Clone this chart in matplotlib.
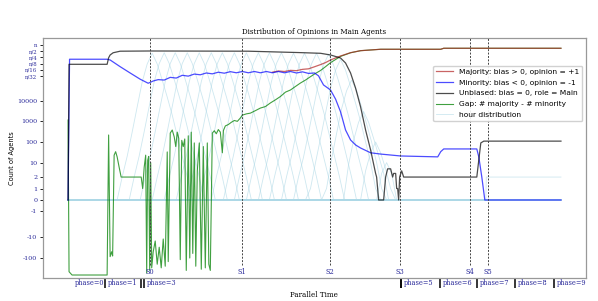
import numpy as np
import matplotlib.pyplot as plt
from matplotlib.ticker import NullLocator
from matplotlib.transforms import blended_transform_factory

n = 5_000_000
t_end = 49.2

# Majority: bias > 0, opinion = +1
maj_t = [20.4, 21.0, 21.6, 22.2, 22.8, 23.4, 24.0, 24.6, 25.2, 25.7, 26.2, 27.2, 28.2, 29.2, 31.2, 37.2, 37.5, 49.2]
maj_v = [2.4e5, 2.75e5, 2.6e5, 2.95e5, 2.85e5, 3.3e5, 3.5e5, 4.4e5, 5.6e5, 7.0e5, 9.4e5, 1.47e6, 2.12e6,
         2.65e6, 3.1e6, 3.1e6, 3.47e6, 3.47e6]

# Minority: bias < 0, opinion = -1
min_t = [0, 0.15, 3.9, 4.2, 5.2, 6.2, 7.2, 8.0, 8.5, 9.0, 9.6, 10.2, 10.8, 11.4, 12.0, 12.6, 13.2, 13.8,
         14.4, 15.0, 15.6, 16.2, 16.8, 17.4, 18.0, 18.6, 19.2, 19.8, 20.4, 21.0, 21.6, 22.2, 22.8, 23.4,
         24.0, 24.6, 25.0, 25.5, 26.2, 26.7, 27.2, 27.7, 28.2, 28.7, 29.2, 30.2, 31.2, 33.2, 36.9, 37.2,
         37.5, 40.8, 41.0, 41.3, 41.6, 49.2]
min_v = [0, 1.02e6, 1.02e6, 9.4e5, 4.45e5, 2.2e5, 1.1e5, 7.0e4, 9.0e4, 1.05e5, 1.0e5, 1.35e5, 1.25e5,
         1.7e5, 1.55e5, 1.95e5, 1.8e5, 2.2e5, 2.0e5, 2.4e5, 2.15e5, 2.55e5, 2.25e5, 2.6e5, 2.25e5, 2.6e5,
         2.25e5, 2.6e5, 2.25e5, 2.6e5, 2.25e5, 2.6e5, 2.2e5, 2.5e5, 2.1e5, 2.2e5, 1.6e5, 5.8e4, 3.3e4,
         1.2e4, 2.9e3, 380, 125, 72, 51, 30, 26, 21, 19, 34, 46, 46, 19, 2, 0, 0]

# Unbiased: bias = 0, role = Main
unb_t = [0, 0.1, 3.9, 4.05, 4.2, 4.5, 5.2, 8.2, 18.0, 23.0, 25.2, 26.2, 27.2, 27.7, 28.2, 28.7, 29.2,
         29.7, 30.2, 30.7, 30.8, 31.0, 31.5, 31.7, 31.9, 32.2, 32.4, 32.5, 32.7, 32.8, 32.9, 33.0, 33.1,
         33.3, 33.5, 40.8, 41.2, 41.5, 49.2]
unb_v = [0, 5.8e5, 5.8e5, 1.2e6, 1.64e6, 2.1e6, 2.5e6, 2.56e6, 2.5e6, 2.15e6, 1.98e6, 1.64e6, 1.17e6,
         6.7e5, 2.2e5, 4.1e4, 5.0e3, 380, 41, 3, 2, 0, 0, 2, 5, 5, 2, 3, 3, 1, 1, 0, 2, 4, 2, 2, 90, 110, 110]

# Gap: # majority - # minority
gap_t = [0, 0.1, 0.4, 3.9, 4.05, 4.2, 4.35, 4.45, 4.6, 4.75, 4.9, 5.1, 5.3, 7.3, 7.45, 7.6, 7.75, 7.85,
         7.95, 8.05, 8.15, 8.25, 8.35, 8.5, 8.7, 8.9, 9.1, 9.3, 9.5, 9.7, 9.9, 10.0, 10.2, 10.4, 10.6,
         10.75, 10.9, 11.05, 11.2, 11.35, 11.5, 11.65, 11.8, 12.0, 12.15, 12.3, 12.45, 12.6, 12.75, 12.9,
         13.1, 13.3, 13.5, 13.7, 13.9, 14.05, 14.2, 14.4, 14.6, 14.8, 15.0, 15.2, 15.4, 15.5, 15.7, 16.0,
         16.3, 16.6, 16.9, 17.2, 17.4, 17.8, 18.2, 18.7, 19.2, 19.7, 20.2, 20.7, 21.2, 21.7, 22.2, 22.7,
         23.2, 23.7, 24.2, 24.7, 25.2, 25.7, 26.2, 27.2, 28.2, 29.2, 31.2, 37.2, 37.5, 49.2]
gap_v = [1160, -461, -667, -667, 218, -86, -50, -80, 23, 34, 19, 6, 2, 2, 1, 6, 23, -533,
         13, 20, -400, 10, -300, -50, -15, -200, -30, -300, -12, -250, 33, -150, 270, 380, 175,
         60, 300, 150, -120, 120, 60, 140, -400, 200, -100, 300, -60, 90, -250, 4,
         90, -350, 60, -300, 90, -200, -400, 270, 350, 250, 400, 300, 30, 350, 600, 700,
         900, 1100, 1000, 1450, 2000, 2300, 2500, 3300, 4400, 5200, 7800, 1.1e4, 1.6e4, 2.6e4, 3.3e4, 4.9e4,
         7.2e4, 1.0e5, 1.46e5, 2.1e5, 2.9e5, 4.45e5, 6.95e5, 1.4e6, 2.1e6, 2.65e6, 3.1e6, 3.1e6, 3.47e6, 3.47e6]

# hour distribution: peak time and peak count of each hour, shared hump shape
hour_peak_t = [8.4, 9.6, 10.7, 11.9, 13.1, 14.3, 15.4, 16.6, 17.8, 19.0, 20.1, 21.3, 22.5, 23.6, 24.8,
               26.0, 27.2, 28.3, 29.5, 30.7, 31.8]
hour_peak_v = [2.0e6, 2.1e6, 2.1e6, 2.1e6, 2.1e6, 2.1e6, 2.1e6, 2.1e6, 2.1e6, 2.1e6, 2.1e6, 2.1e6, 2.0e6,
               2.0e6, 2.0e6, 1.8e6, 1.0e6, 1.0e5, 3.0e3, 100, 10]
hour_offset = [-3.5, -3.0, -2.5, -2.0, -1.5, -1.0, -0.5, 0, 0.5, 1.0, 1.5, 2.0, 2.5, 3.0, 3.5, 4.0]
hour_shape = [0, 1e-6, 1e-5, 1.5e-4, 2.5e-3, 0.04, 0.3, 1, 0.3, 0.05, 7.5e-3, 1e-3, 1e-4, 1e-5, 1e-6, 0]
hour_tail_t = [0, 41.7, 41.75, 49.2]
hour_tail_v = [0, 0, 2, 2]

# stage markers and phases
stage_t = [8.2, 17.4, 26.1, 33.1, 40.1, 41.9]
stage_lab = ['S0', 'S1', 'S2', 'S3', 'S4', 'S5']
phase_t = [0.4, 3.7, 7.3, 7.6, 33.2, 33.25, 37.1, 40.8, 44.6, 48.5]
phase_lab = ['phase=0', 'phase=1', '', 'phase=3', '', 'phase=5', 'phase=6', 'phase=7', 'phase=8', 'phase=9']

ytick_v = [-100, -10, -1, 0, 1, 2, 10, 100, 1000, 10000, n / 32, n / 16, n / 8, n / 4, n / 2, n]
ytick_lab = ['-100', '-10', '-1', '0', '1', '2', '10', '100', '1000', '10000',
             'n/32', 'n/16', 'n/8', 'n/4', 'n/2', 'n']

tick_col = '#2a2a9a'
serif = 'DejaVu Serif'

fig = plt.figure(figsize=(5.98, 3.01), dpi=100)
ax = fig.add_axes([43 / 598, 23 / 301, 543 / 598, 240 / 301])

hour_lines = []
for tp, pk in zip(hour_peak_t, hour_peak_v):
    ht = np.concatenate([[0], tp + np.array(hour_offset), [t_end]])
    hv = np.concatenate([[0], np.round(pk * np.array(hour_shape)), [0]])
    hl, = ax.plot(ht, hv, color='lightblue', lw=0.6, alpha=0.6, zorder=1)
    hour_lines.append(hl)
ax.plot(hour_tail_t, hour_tail_v, color='lightblue', lw=0.6, alpha=0.6, zorder=1)

l_maj, = ax.plot(maj_t, maj_v, color='firebrick', alpha=0.7, lw=0.9, zorder=2.2)
l_min, = ax.plot(min_t, min_v, color='blue', alpha=0.7, lw=0.9, zorder=2.3)
l_unb, = ax.plot(unb_t, unb_v, color='black', alpha=0.7, lw=0.9, zorder=2.4)
l_gap, = ax.plot(gap_t, gap_v, color='green', alpha=0.75, lw=0.8, zorder=1.9)

ax.set_yscale('symlog', linthresh=2)
ax.set_ylim(-931, 1.09e7)
ax.set_xlim(-2.5, 51.7)
ax.set_yticks(ytick_v, ytick_lab)
ax.yaxis.set_minor_locator(NullLocator())
ax.tick_params(axis='y', labelsize=4.6, labelcolor=tick_col, length=2.5, width=0.6, pad=1.5)
for lab in ax.get_yticklabels():
    lab.set_family(serif)
    if lab.get_text().startswith('n'):
        lab.set_fontsize(3.9)

ax.set_xticks(phase_t[1:], [''] * (len(phase_t) - 1))
ax.xaxis.set_minor_locator(NullLocator())
ax.tick_params(axis='x', length=7, width=1.1, color='black', direction='out')

trans = blended_transform_factory(ax.transData, ax.transAxes)
for pt, lab in zip(phase_t, phase_lab):
    if lab:
        ax.text(pt + 0.3, -0.022, lab, transform=trans, ha='left', va='center',
                fontsize=4.8, color=tick_col, family=serif)

for st, lab in zip(stage_t, stage_lab):
    ax.axvline(st, ymin=0.055, ymax=1, color='#444444', lw=0.7, ls=(0, (2, 1.5)), zorder=3)
    ax.text(st, 0.026, lab, transform=trans, ha='center', va='center',
            fontsize=4.8, color=tick_col, family=serif)

for sp in ax.spines.values():
    sp.set_color('#999999')
    sp.set_linewidth(0.9)

ax.legend([l_maj, l_min, l_unb, l_gap, hour_lines[0]],
          ['Majority: bias > 0, opinion = +1', 'Minority: bias < 0, opinion = -1',
           'Unbiased: bias = 0, role = Main', 'Gap: # majority - # minority', 'hour distribution'],
          loc='upper right', bbox_to_anchor=(1.0, 0.9), fontsize=5.4, labelspacing=0.6,
          handlelength=2.2, framealpha=0.9)

fig.text(314 / 598, 1 - 32 / 301, 'Distribution of Opinions in Main Agents', ha='center', va='center',
         fontsize=5.1, family=serif)
fig.text(314 / 598, 1 - 295 / 301, 'Parallel Time', ha='center', va='center', fontsize=5.1, family=serif)
fig.text(12 / 598, 1 - 158 / 301, 'Count of Agents', ha='center', va='center', rotation=90, fontsize=4.8)

fig.savefig('out.png', dpi=100)
